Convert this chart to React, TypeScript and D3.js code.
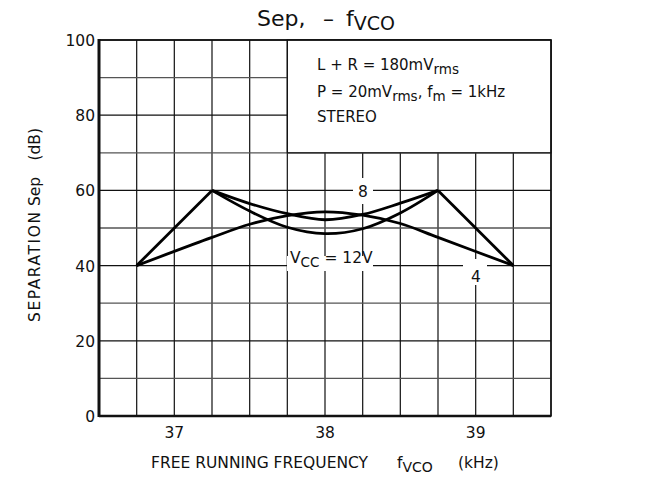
import React from 'react';
import * as d3 from 'd3';

// frequency (kHz) / separation (dB)
const FREQ_DIP = [37.25, 37.5, 37.75, 38, 38.25, 38.5, 38.75];
const SEP_VCC8 = [60, 56.5, 53.8, 52.2, 53.6, 56.6, 60];
const SEP_VCC12 = [60, 54.5, 50.2, 48.5, 49.8, 54, 60];
const FREQ_HUMP = [36.75, 37.25, 37.5, 37.75, 38, 38.25, 38.5, 38.75, 39.25];
const SEP_VCC4 = [40, 47.5, 51, 53.3, 54.3, 53.4, 51.2, 47.5, 40];
const FREQ_WING_L = [36.75, 37.25];
const SEP_WING_L = [40, 60];
const FREQ_WING_R = [38.75, 39.25];
const SEP_WING_R = [60, 40];

const X_TICKS = [37, 38, 39];
const Y_TICKS = [0, 20, 40, 60, 80, 100];

const W = 647;
const H = 481;
const margin = { top: 40, right: 96, bottom: 65, left: 99 };
const font = "'DejaVu Sans', sans-serif";

const App: React.FC = () => {
  const x = d3.scaleLinear().domain([36.5, 39.5]).range([margin.left, W - margin.right]);
  const y = d3.scaleLinear().domain([0, 100]).range([H - margin.bottom, margin.top]);

  const xGrid = d3.range(36.5, 39.51, 0.25);
  const yGrid = d3.range(0, 101, 10);

  const smooth = d3
    .line<[number, number]>()
    .x((d) => x(d[0]))
    .y((d) => y(d[1]))
    .curve(d3.curveCatmullRom.alpha(0.5));
  const straight = d3
    .line<[number, number]>()
    .x((d) => x(d[0]))
    .y((d) => y(d[1]));

  const zip = (xs: number[], ys: number[]) => xs.map((v, i) => [v, ys[i]] as [number, number]);

  const x0 = x(36.5);
  const x1 = x(39.5);
  const y0 = y(0);
  const y1 = y(100);

  // legend box spans 37.75..39.5 kHz, 70..100 dB
  const boxX = x(37.75);
  const boxY = y(70);

  return (
    <svg
      width={W}
      height={H}
      style={{ position: 'absolute', left: 0, top: 0, background: '#fff', fontFamily: font }}
    >
      {/* grid */}
      <g stroke="#222" strokeWidth={1.3}>
        {xGrid.map((v) => (
          <line key={'vx' + v} x1={x(v)} x2={x(v)} y1={y1} y2={y0} />
        ))}
        {yGrid.map((v) => (
          <line
            key={'hy' + v}
            x1={x0}
            x2={x1}
            y1={y(v)}
            y2={y(v)}
            stroke={v % 20 === 0 ? '#111' : '#555'}
          />
        ))}
      </g>

      {/* legend box */}
      <rect x={boxX} y={y1} width={x1 - boxX} height={boxY - y1} fill="#fff" stroke="#111" strokeWidth={1.3} />
      <g fontSize={15} fill="#111">
        <text x={317} y={70}>
          L + R = 180mV<tspan fontSize={13.5} dy={4}>rms</tspan>
        </text>
        <text x={317} y={97}>
          P = 20mV<tspan fontSize={13.5} dy={4}>rms</tspan>
          <tspan dy={-4}>, f</tspan>
          <tspan fontSize={13.5} dy={4}>m</tspan>
          <tspan dy={-4}> = 1kHz</tspan>
        </text>
        <text x={317} y={122}>STEREO</text>
      </g>

      {/* white gaps behind curve labels */}
      <rect x={353} y={178} width={20} height={26} fill="#fff" />
      <rect x={287} y={256} width={86} height={15} fill="#fff" />
      <rect x={463} y={259} width={24} height={26} fill="#fff" />

      {/* frame */}
      <rect x={x0} y={y1} width={x1 - x0} height={y0 - y1} fill="none" stroke="#111" strokeWidth={1.5} />
      <line x1={x0} x2={x0} y1={y1 - 1} y2={y0 + 1} stroke="#111" strokeWidth={3} />
      <line x1={x0} x2={x1} y1={y0} y2={y0} stroke="#111" strokeWidth={2.5} />

      {/* curves */}
      <g fill="none" stroke="#000" strokeWidth={2.8} strokeLinejoin="round">
        <path d={smooth(zip(FREQ_DIP, SEP_VCC8)) || ''} />
        <path d={smooth(zip(FREQ_DIP, SEP_VCC12)) || ''} />
        <path d={smooth(zip(FREQ_HUMP, SEP_VCC4)) || ''} />
        <path d={straight(zip(FREQ_WING_L, SEP_WING_L)) || ''} />
        <path d={straight(zip(FREQ_WING_R, SEP_WING_R)) || ''} />
      </g>

      {/* curve labels */}
      <g fontSize={15.5} fill="#111">
        <text x={363} y={197} textAnchor="middle">8</text>
        <text x={290} y={263}>
          V<tspan fontSize={13.5} dy={4}>CC</tspan>
          <tspan dy={-4}> = 12V</tspan>
        </text>
        <text x={476} y={282} textAnchor="middle">4</text>
      </g>

      {/* tick labels */}
      <g fontSize={15.5} fill="#111">
        {Y_TICKS.map((v) => (
          <text key={'yt' + v} x={x0 - 4} y={y(v) + 6} textAnchor="end">
            {v}
          </text>
        ))}
        {X_TICKS.map((v) => (
          <text key={'xt' + v} x={x(v)} y={438} textAnchor="middle">
            {v}
          </text>
        ))}
      </g>

      {/* title */}
      <g fontSize={22} fill="#111">
        <text x={257} y={26}>Sep,</text>
        <text x={323} y={26}>–</text>
        <text x={346} y={26}>
          f<tspan fontSize={19} dy={4}>VCO</tspan>
        </text>
      </g>

      {/* x axis title */}
      <g fontSize={15.5} fill="#111">
        <text x={151} y={468}>FREE RUNNING FREQUENCY</text>
        <text x={397} y={468}>
          f<tspan fontSize={14} dy={4}>VCO</tspan>
        </text>
        <text x={458} y={468}>(kHz)</text>
      </g>

      {/* y axis title */}
      <g fontSize={15.5} fill="#111" transform="translate(40,0) rotate(-90)">
        <text x={-322} y={0} textLength={110} lengthAdjust="spacing">
          SEPARATION
        </text>
        <text x={-206} y={0}>Sep</text>
        <text x={-128} y={0} textAnchor="end">(dB)</text>
      </g>
    </svg>
  );
};

export default App;
